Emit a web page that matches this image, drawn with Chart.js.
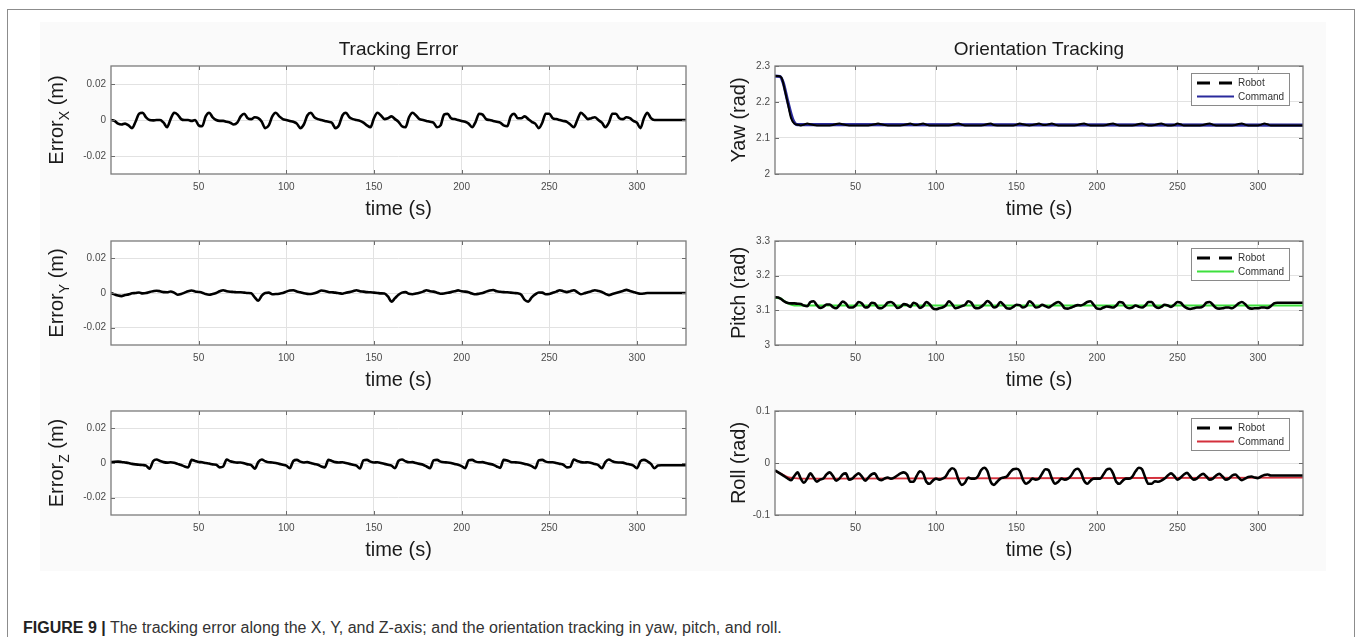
<!DOCTYPE html>
<html>
<head>
<meta charset="utf-8">
<script src="https://cdn.jsdelivr.net/npm/chart.js@4.4.0/dist/chart.umd.min.js"></script>
<style>
  body { margin: 0; width: 1362px; height: 637px; background: #fff; position: relative; overflow: hidden;
         font-family: 'Liberation Sans', Arial, Helvetica, sans-serif; }
  #frame { position: absolute; left: 7px; top: 9px; width: 1346px; height: 640px; border: 1.5px solid #8c8c8c; }
  #panel { position: absolute; left: 40px; top: 22px; width: 1286px; height: 549px; background: #fafafa; }
  canvas { position: absolute; }
  #caption { position: absolute; left: 23px; top: 618px; font-size: 16px; line-height: 20px; color: #333; white-space: nowrap; }
  #caption b { color: #222; }
</style>
</head>
<body>
<div id="frame"></div>
<div id="panel"></div>
<canvas id="cX" width="680" height="210" style="left:20px;top:20px"></canvas>
<canvas id="cY" width="680" height="170" style="left:20px;top:230px"></canvas>
<canvas id="cZ" width="680" height="175" style="left:20px;top:400px"></canvas>
<canvas id="cYaw" width="640" height="210" style="left:700px;top:20px"></canvas>
<canvas id="cPitch" width="640" height="170" style="left:700px;top:230px"></canvas>
<canvas id="cRoll" width="640" height="175" style="left:700px;top:400px"></canvas>
<div id="caption"><b>FIGURE 9 |</b> The tracking error along the X, Y, and Z-axis; and the orientation tracking in yaw, pitch, and roll.</div>
<script>
const FONT = "'Liberation Sans', Arial, Helvetica, sans-serif";
Chart.defaults.font.family = FONT;

// sample times (s)
const time = [
  0, 2, 4, 6, 8, 10, 12, 14, 16, 18,
  20, 22, 24, 26, 28, 30, 32, 34, 36, 38,
  40, 42, 44, 46, 48, 50, 52, 54, 56, 58,
  60, 62, 64, 66, 68, 70, 72, 74, 76, 78,
  80, 82, 84, 86, 88, 90, 92, 94, 96, 98,
  100, 102, 104, 106, 108, 110, 112, 114, 116, 118,
  120, 122, 124, 126, 128, 130, 132, 134, 136, 138,
  140, 142, 144, 146, 148, 150, 152, 154, 156, 158,
  160, 162, 164, 166, 168, 170, 172, 174, 176, 178,
  180, 182, 184, 186, 188, 190, 192, 194, 196, 198,
  200, 202, 204, 206, 208, 210, 212, 214, 216, 218,
  220, 222, 224, 226, 228, 230, 232, 234, 236, 238,
  240, 242, 244, 246, 248, 250, 252, 254, 256, 258,
  260, 262, 264, 266, 268, 270, 272, 274, 276, 278,
  280, 282, 284, 286, 288, 290, 292, 294, 296, 298,
  300, 302, 304, 306, 308, 310, 312, 314, 316, 318,
  320, 322, 324, 326, 328
];

const xTicks = [50, 100, 150, 200, 250, 300];
const errTicks = [-0.02, 0, 0.02];
const yawTicks = [2, 2.1, 2.2, 2.3];
const pitchTicks = [3, 3.1, 3.2, 3.3];
const rollTicks = [-0.1, 0, 0.1];

// tracking error (m)
const errorX = [
  0, -0.0005, -0.002, -0.0025, -0.002, -0.003, -0.0045, -0.001, 0.0035, 0.004,
  0.0015, 0, -0.0002, 0, 0, -0.0015, -0.004, 0.0005, 0.004, 0.003,
  0.0005, 0, 0, -0.0005, 0, -0.003, -0.0035, 0.002, 0.004, 0.0015,
  0, -0.0005, -0.0005, -0.001, -0.0015, -0.0025, -0.0015, 0.002, 0.0035, 0.001,
  0.0005, 0.0015, 0.001, -0.001, -0.0045, -0.003, 0.002, 0.004, 0.002, 0.0005,
  0, -0.0005, -0.001, -0.002, -0.0045, -0.0025, 0.0025, 0.004, 0.0015, 0.0005,
  0, -0.0005, -0.001, -0.0015, -0.0045, -0.003, 0.0025, 0.004, 0.0015, 0.0005,
  0, -0.0005, -0.0015, -0.003, -0.004, 0.001, 0.004, 0.0025, 0.0005, 0.001,
  0.002, 0.0005, -0.001, -0.0035, -0.004, 0.0015, 0.004, 0.0025, 0.0005, 0,
  -0.0005, -0.001, -0.0015, -0.004, -0.003, 0.003, 0.0035, 0.001, 0.0005, 0,
  -0.0005, -0.001, -0.002, -0.004, -0.001, 0.0035, 0.003, 0.0005, 0, -0.0005,
  -0.001, -0.0015, -0.003, -0.0035, 0.002, 0.0035, 0.001, 0.001, 0.002, 0.0005,
  -0.001, -0.002, -0.0045, -0.0015, 0.0035, 0.0035, 0.001, 0.0005, 0, -0.0005,
  -0.001, -0.0025, -0.004, 0, 0.004, 0.0025, 0.0005, 0.001, 0.0015, 0,
  -0.0015, -0.004, -0.0015, 0.0035, 0.0035, 0.001, 0.0005, 0.0015, 0.001, -0.0005,
  -0.0015, -0.0045, 0.001, 0.004, 0.001, 0, 0, 0, 0, 0,
  0, 0, 0, 0, 0
];
const errorY = [
  0, -0.0008, -0.0015, -0.0018, -0.0012, -0.0008, -0.0002, 0, 0.0003, -0.0002,
  0, 0.0006, 0.001, 0.0013, 0.001, 0.0005, 0.0004, 0.0009, 0.0002, -0.001,
  -0.0006, 0.0002, 0.001, 0.0014, 0.0009, 0.0006, 0.0002, -0.0006, -0.001, -0.0006,
  0, 0.001, 0.0016, 0.001, 0.0007, 0.0006, 0.0004, 0.0004, 0.0002, 0,
  -0.0002, -0.0025, -0.0045, -0.0015, 0, 0.0002, -0.0007, -0.0006, -0.0004, 0,
  0.0008, 0.0014, 0.0016, 0.0008, 0.0004, -0.0002, -0.0005, -0.0006, -0.0002, 0.0006,
  0.0014, 0.0012, 0.0006, 0.0004, 0.0002, -0.0001, -0.0004, 0.0002, 0.0005, 0.001,
  0.0016, 0.001, 0.0008, 0.0005, 0.0004, 0.0002, 0, -0.0002, -0.0003, -0.002,
  -0.005, -0.003, -0.001, 0.0002, 0.0005, -0.0005, -0.0007, -0.0003, 0.0002, 0.0008,
  0.0016, 0.001, 0.0008, 0.0002, -0.0004, -0.0003, 0.0001, 0.0005, 0.001, 0.0015,
  0.001, 0.0008, 0.0004, -0.0003, -0.0007, -0.0004, 0, 0.0008, 0.0014, 0.0017,
  0.001, 0.0007, 0.0005, 0.0004, 0.0002, 0, -0.0002, -0.001, -0.004, -0.005,
  -0.0025, -0.0008, 0.0003, 0.0002, -0.0007, -0.0006, 0.0002, 0.0008, 0.0016, 0.001,
  0.0005, 0.001, 0.0016, 0.0005, -0.0007, -0.0002, 0.0005, 0.001, 0.0016, 0.0012,
  0.0006, -0.0005, -0.0012, -0.0006, 0, 0.0006, 0.0012, 0.0018, 0.0012, 0.0006,
  0, -0.0004, -0.0003, 0, 0, 0, 0, 0, 0, 0,
  0, 0, 0, 0, 0
];
const errorZ = [
  0.0005, 0.0007, 0.0008, 0.0006, 0.0003, 0, -0.0005, -0.0008, -0.001, -0.0012,
  -0.0015, -0.0033, 0.001, 0.002, 0.0012, 0.0005, 0.0002, 0.0004, 0.0002, -0.0005,
  -0.0012, -0.002, -0.0025, 0.0018, 0.0012, 0.0006, 0.0004, 0, -0.0003, -0.0008,
  -0.001, -0.0025, -0.002, 0.002, 0.001, 0.0005, 0.0002, 0.0003, -0.0002, -0.0008,
  -0.0012, -0.0033, 0.0005, 0.002, 0.001, 0.0004, 0.0003, 0, -0.0005, -0.001,
  -0.0015, -0.003, 0.0012, 0.0018, 0.0008, 0.0003, 0.0005, 0, -0.0006, -0.001,
  -0.002, -0.0025, 0.0018, 0.0012, 0.0005, 0.0003, 0.0004, 0, -0.0005, -0.001,
  -0.0015, -0.0032, 0.0015, 0.0018, 0.0008, 0.0003, 0.0004, 0, -0.0005, -0.001,
  -0.0015, -0.003, 0.0012, 0.002, 0.001, 0.0004, 0.0005, 0, -0.0005, -0.001,
  -0.002, -0.003, 0.0015, 0.0018, 0.0008, 0.0004, 0.0003, 0, -0.0006, -0.001,
  -0.0018, -0.003, 0.0015, 0.0018, 0.0008, 0.0004, 0.0005, 0, -0.0005, -0.001,
  -0.002, -0.0028, 0.0018, 0.0015, 0.0006, 0.0004, 0.0003, 0, -0.0006, -0.001,
  -0.0018, -0.003, 0.0015, 0.0018, 0.0008, 0.0004, 0.0004, 0, -0.0005, -0.001,
  -0.0025, -0.0022, 0.002, 0.0012, 0.0005, 0.0003, 0.0004, 0, -0.0006, -0.0012,
  -0.003, 0.0005, 0.002, 0.001, 0.0004, 0.0003, 0.0002, -0.0004, -0.0008, -0.0015,
  -0.003, 0.001, 0.0018, 0.001, -0.0005, -0.003, -0.0015, -0.0013, -0.0013, -0.0013,
  -0.0013, -0.0013, -0.0013, -0.0013, -0.0013
];

// orientation (rad)
const yawRobot = [
  2.272, 2.272, 2.268, 2.235, 2.195, 2.155, 2.14, 2.137, 2.135, 2.137,
  2.14, 2.138, 2.136, 2.135, 2.135, 2.135, 2.135, 2.135, 2.136, 2.139,
  2.14, 2.138, 2.136, 2.135, 2.135, 2.135, 2.135, 2.135, 2.135, 2.135,
  2.136, 2.138, 2.14, 2.138, 2.136, 2.135, 2.135, 2.135, 2.135, 2.135,
  2.136, 2.138, 2.14, 2.137, 2.136, 2.138, 2.14, 2.137, 2.135, 2.135,
  2.135, 2.135, 2.135, 2.135, 2.135, 2.136, 2.139, 2.14, 2.137, 2.135,
  2.135, 2.135, 2.135, 2.135, 2.135, 2.136, 2.139, 2.14, 2.136, 2.135,
  2.135, 2.135, 2.135, 2.135, 2.135, 2.137, 2.14, 2.138, 2.136, 2.135,
  2.136, 2.138, 2.14, 2.137, 2.136, 2.138, 2.14, 2.137, 2.135, 2.135,
  2.135, 2.135, 2.135, 2.135, 2.136, 2.139, 2.14, 2.137, 2.135, 2.135,
  2.135, 2.135, 2.135, 2.136, 2.139, 2.14, 2.137, 2.135, 2.135, 2.135,
  2.135, 2.135, 2.136, 2.139, 2.14, 2.137, 2.135, 2.135, 2.136, 2.139,
  2.14, 2.137, 2.135, 2.135, 2.136, 2.14, 2.138, 2.135, 2.135, 2.135,
  2.135, 2.135, 2.135, 2.136, 2.139, 2.14, 2.137, 2.135, 2.135, 2.135,
  2.135, 2.135, 2.135, 2.136, 2.139, 2.14, 2.137, 2.135, 2.135, 2.135,
  2.135, 2.137, 2.14, 2.138, 2.135, 2.135, 2.135, 2.135, 2.135, 2.135,
  2.135, 2.135, 2.135, 2.135, 2.135
];
const yawCmdTime = [0, 3, 5, 8, 11, 14, 328];
const yawCommand = [2.272, 2.271, 2.255, 2.2, 2.152, 2.137, 2.136];

const pitchRobot = [
  3.138, 3.137, 3.132, 3.125, 3.121, 3.12, 3.12, 3.119, 3.118, 3.114,
  3.112, 3.124, 3.126, 3.115, 3.107, 3.11, 3.117, 3.117, 3.109, 3.106,
  3.115, 3.125, 3.12, 3.108, 3.108, 3.114, 3.124, 3.12, 3.108, 3.11,
  3.122, 3.12, 3.108, 3.106, 3.112, 3.122, 3.124, 3.118, 3.107, 3.11,
  3.118, 3.116, 3.11, 3.122, 3.118, 3.107, 3.112, 3.124, 3.118, 3.106,
  3.103, 3.106, 3.108, 3.114, 3.126, 3.118, 3.106, 3.108, 3.112, 3.116,
  3.126, 3.122, 3.108, 3.106, 3.11, 3.118, 3.127, 3.12, 3.108, 3.112,
  3.124, 3.116, 3.106, 3.105, 3.11, 3.116, 3.115, 3.108, 3.112, 3.126,
  3.12, 3.108, 3.11, 3.116, 3.112, 3.108, 3.114, 3.12, 3.124, 3.118,
  3.106, 3.105, 3.108, 3.112, 3.115, 3.114, 3.118, 3.124, 3.126, 3.116,
  3.105, 3.104, 3.108, 3.111, 3.11, 3.108, 3.114, 3.124, 3.122, 3.11,
  3.106, 3.108, 3.114, 3.11, 3.108, 3.114, 3.124, 3.124, 3.112, 3.107,
  3.11, 3.116, 3.114, 3.11, 3.116, 3.124, 3.122, 3.112, 3.106, 3.104,
  3.106, 3.108, 3.108, 3.112, 3.122, 3.124, 3.116, 3.107, 3.105, 3.106,
  3.108, 3.108, 3.106, 3.112, 3.12, 3.124, 3.118, 3.108, 3.105, 3.106,
  3.106, 3.108, 3.108, 3.107, 3.112, 3.12, 3.122, 3.122, 3.122, 3.122,
  3.122, 3.122, 3.122, 3.122, 3.122
];
const pitchCmdTime = [0, 3, 6, 9, 12, 328];
const pitchCommand = [3.136, 3.135, 3.126, 3.118, 3.114, 3.114];

const rollRobot = [
  -0.014, -0.018, -0.022, -0.026, -0.03, -0.033, -0.025, -0.018, -0.03, -0.038,
  -0.03, -0.02, -0.028, -0.036, -0.032, -0.03, -0.022, -0.018, -0.025, -0.034,
  -0.03, -0.022, -0.02, -0.032, -0.03, -0.024, -0.02, -0.026, -0.034, -0.028,
  -0.022, -0.02, -0.03, -0.033, -0.03, -0.028, -0.03, -0.028, -0.024, -0.02,
  -0.018, -0.022, -0.036, -0.036, -0.025, -0.016, -0.02, -0.036, -0.04, -0.034,
  -0.03, -0.032, -0.03, -0.026, -0.016, -0.01, -0.014, -0.032, -0.042, -0.038,
  -0.028, -0.03, -0.03, -0.026, -0.014, -0.009, -0.016, -0.036, -0.042, -0.036,
  -0.03, -0.028, -0.026, -0.018, -0.012, -0.011, -0.015, -0.032, -0.04, -0.036,
  -0.03, -0.032, -0.03, -0.02, -0.012, -0.014, -0.03, -0.04, -0.036, -0.03,
  -0.032, -0.03, -0.024, -0.014, -0.011, -0.018, -0.034, -0.04, -0.034, -0.03,
  -0.03, -0.03, -0.022, -0.013, -0.011, -0.02, -0.036, -0.04, -0.034, -0.03,
  -0.03, -0.026, -0.016, -0.009, -0.012, -0.028, -0.04, -0.04, -0.035, -0.036,
  -0.034, -0.03, -0.024, -0.02, -0.025, -0.032, -0.028, -0.022, -0.019, -0.026,
  -0.032, -0.03, -0.024, -0.021, -0.026, -0.032, -0.03, -0.024, -0.021, -0.026,
  -0.032, -0.03, -0.024, -0.022, -0.028, -0.033, -0.03, -0.027, -0.026, -0.028,
  -0.029, -0.026, -0.023, -0.022, -0.024, -0.024, -0.024, -0.024, -0.024, -0.024,
  -0.024, -0.024, -0.024, -0.024, -0.024
];
const rollCmdTime = [0, 4, 8, 12, 20, 328];
const rollCommand = [-0.015, -0.021, -0.027, -0.029, -0.03, -0.028];

function points(ts, vs) {
  return ts.map((t, i) => ({ x: t, y: vs[i] }));
}

// white axes background, inward tick marks and the box around each axes
const frame = {
  id: "frame",
  beforeDraw(chart) {
    const { ctx, chartArea: a } = chart;
    ctx.save();
    ctx.fillStyle = "#fff";
    ctx.fillRect(a.left, a.top, a.right - a.left, a.bottom - a.top);
    ctx.restore();
  },
  afterDatasetsDraw(chart) {
    const { ctx, chartArea: a, scales } = chart;
    ctx.save();
    ctx.strokeStyle = "#6a6a6a";
    ctx.lineWidth = 1;
    ctx.beginPath();
    scales.x.ticks.forEach((t) => {
      const px = Math.round(scales.x.getPixelForValue(t.value)) + 0.5;
      ctx.moveTo(px, a.bottom); ctx.lineTo(px, a.bottom - 4);
      ctx.moveTo(px, a.top); ctx.lineTo(px, a.top + 4);
    });
    scales.y.ticks.forEach((t) => {
      const py = Math.round(scales.y.getPixelForValue(t.value)) + 0.5;
      ctx.moveTo(a.left, py); ctx.lineTo(a.left + 4, py);
      ctx.moveTo(a.right, py); ctx.lineTo(a.right - 4, py);
    });
    ctx.stroke();
    ctx.strokeStyle = "#7b7b7b";
    ctx.lineWidth = 1.3;
    ctx.strokeRect(a.left, a.top, a.right - a.left, a.bottom - a.top);
    ctx.restore();
  },
};

// rotated y label with a subscript (Error_X (m))
const ylab = {
  id: "ylab",
  afterDraw(chart, args, opts) {
    const { ctx, chartArea: a } = chart;
    const big = `20px ${FONT}`, small = `14px ${FONT}`;
    ctx.save();
    ctx.translate(opts.x, (a.top + a.bottom) / 2);
    ctx.rotate(-Math.PI / 2);
    ctx.fillStyle = "#1a1a1a";
    ctx.textBaseline = "alphabetic";
    ctx.font = big;
    const w1 = ctx.measureText(opts.main).width;
    const w3 = ctx.measureText(opts.tail).width;
    ctx.font = small;
    const w2 = opts.sub ? ctx.measureText(opts.sub).width : 0;
    let x = -(w1 + w2 + w3) / 2;
    ctx.font = big;
    ctx.fillText(opts.main, x, 0);
    x += w1;
    if (opts.sub) {
      ctx.font = small;
      ctx.fillText(opts.sub, x, 6);
      x += w2;
    }
    ctx.font = big;
    ctx.fillText(opts.tail, x, 0);
    ctx.restore();
  },
};

// boxed legend in the top right corner of the axes
const legendBox = {
  id: "legendBox",
  afterDraw(chart) {
    const { ctx, chartArea: a } = chart;
    const w = 98, h = 32;
    const x0 = Math.round(a.right - 14 - w), y0 = Math.round(a.top + 7);
    ctx.save();
    ctx.fillStyle = "#fff";
    ctx.fillRect(x0, y0, w, h);
    ctx.strokeStyle = "#8a8a8a";
    ctx.lineWidth = 1;
    ctx.strokeRect(x0 + 0.5, y0 + 0.5, w, h);
    chart.data.datasets.forEach((ds, i) => {
      const y = y0 + 10 + i * 13.5;
      ctx.beginPath();
      ctx.setLineDash(ds.legendDash || []);
      ctx.strokeStyle = ds.borderColor;
      ctx.lineWidth = ds.legendWidth || ds.borderWidth;
      ctx.moveTo(x0 + 6, y);
      ctx.lineTo(x0 + 43, y);
      ctx.stroke();
      ctx.setLineDash([]);
      ctx.fillStyle = "#333";
      ctx.font = `10px ${FONT}`;
      ctx.textBaseline = "middle";
      ctx.fillText(ds.label, x0 + 47, y + 0.5);
    });
    ctx.restore();
  },
};

function panel(id, cfg) {
  return new Chart(document.getElementById(id), {
    type: "line",
    data: { datasets: cfg.datasets },
    options: {
      responsive: false,
      animation: false,
      devicePixelRatio: 1,
      layout: { padding: cfg.padding },
      elements: { point: { radius: 0 }, line: { cubicInterpolationMode: "monotone" } },
      plugins: {
        legend: { display: false },
        tooltip: { enabled: false },
        title: {
          display: !!cfg.title,
          text: cfg.title || "",
          fullSize: false,
          color: "#1a1a1a",
          font: { size: 19, weight: "normal", family: FONT },
          padding: { top: 18.6, bottom: 4.6 },
        },
        ylab: cfg.ylab,
      },
      scales: {
        x: {
          type: "linear",
          min: 0,
          max: 328,
          afterBuildTicks: (s) => { s.ticks = xTicks.map((v) => ({ value: v })); },
          grid: { color: "#e2e2e2", lineWidth: 1, drawTicks: false },
          border: { display: false },
          ticks: { padding: 7, color: "#4a4a4a", font: { size: 10 }, maxRotation: 0, autoSkip: false,
                   callback: (v) => String(v) },
          title: { display: true, text: "time (s)", color: "#1a1a1a", font: { size: 20 },
                   padding: { top: -2.5, bottom: 0 } },
        },
        y: {
          min: cfg.range[0],
          max: cfg.range[1],
          afterBuildTicks: (s) => { s.ticks = cfg.ticks.map((v) => ({ value: v })); },
          afterFit: (s) => { s.width = cfg.yWidth; },
          grid: { color: "#e2e2e2", lineWidth: 1, drawTicks: false },
          border: { display: false },
          ticks: { padding: 5, color: "#4a4a4a", font: { size: 10 }, callback: (v) => String(v) },
        },
      },
    },
    plugins: cfg.legend ? [frame, ylab, legendBox] : [frame, ylab],
  });
}

const errLine = { borderColor: "#000", borderWidth: 2.6, fill: false };

panel("cX", {
  title: "Tracking Error",
  padding: { left: 0, right: 14, top: 0, bottom: 8.5 },
  yWidth: 91, range: [-0.03, 0.03], ticks: errTicks,
  ylab: { main: "Error", sub: "X", tail: " (m)", x: 43 },
  datasets: [{ ...errLine, label: "Error X", data: points(time, errorX) }],
});
panel("cY", {
  padding: { left: 0, right: 14, top: 7, bottom: 7.5 },
  yWidth: 91, range: [-0.03, 0.03], ticks: errTicks,
  ylab: { main: "Error", sub: "Y", tail: " (m)", x: 43 },
  datasets: [{ ...errLine, label: "Error Y", data: points(time, errorY) }],
});
panel("cZ", {
  padding: { left: 0, right: 14, top: 7, bottom: 12.5 },
  yWidth: 91, range: [-0.03, 0.03], ticks: errTicks,
  ylab: { main: "Error", sub: "Z", tail: " (m)", x: 43 },
  datasets: [{ ...errLine, label: "Error Z", data: points(time, errorZ) }],
});

panel("cYaw", {
  title: "Orientation Tracking",
  padding: { left: 0, right: 37, top: 0, bottom: 8.5 },
  yWidth: 75, range: [2, 2.3], ticks: yawTicks, legend: true,
  ylab: { main: "Yaw (rad)", tail: "", x: 45 },
  datasets: [
    { label: "Robot", data: points(time, yawRobot), borderColor: "#000", borderWidth: 2,
      legendDash: [13, 9], legendWidth: 3 },
    { label: "Command", data: points(yawCmdTime, yawCommand), borderColor: "#2a2a9c", borderWidth: 3.2,
      legendWidth: 1.8 },
  ],
});
panel("cPitch", {
  padding: { left: 0, right: 37, top: 7, bottom: 7.5 },
  yWidth: 75, range: [3, 3.3], ticks: pitchTicks, legend: true,
  ylab: { main: "Pitch (rad)", tail: "", x: 45 },
  datasets: [
    { label: "Robot", data: points(time, pitchRobot), borderColor: "#000", borderWidth: 2.6,
      legendDash: [13, 9], legendWidth: 3 },
    { label: "Command", data: points(pitchCmdTime, pitchCommand), borderColor: "#3ee03e", borderWidth: 2.2,
      legendWidth: 1.8 },
  ],
});
panel("cRoll", {
  padding: { left: 0, right: 37, top: 7, bottom: 12.5 },
  yWidth: 75, range: [-0.1, 0.1], ticks: rollTicks, legend: true,
  ylab: { main: "Roll (rad)", tail: "", x: 45 },
  datasets: [
    { label: "Robot", data: points(time, rollRobot), borderColor: "#000", borderWidth: 2.6,
      legendDash: [13, 9], legendWidth: 3 },
    { label: "Command", data: points(rollCmdTime, rollCommand), borderColor: "#d4303c", borderWidth: 1.8,
      legendWidth: 1.8 },
  ],
});
</script>
</body>
</html>
